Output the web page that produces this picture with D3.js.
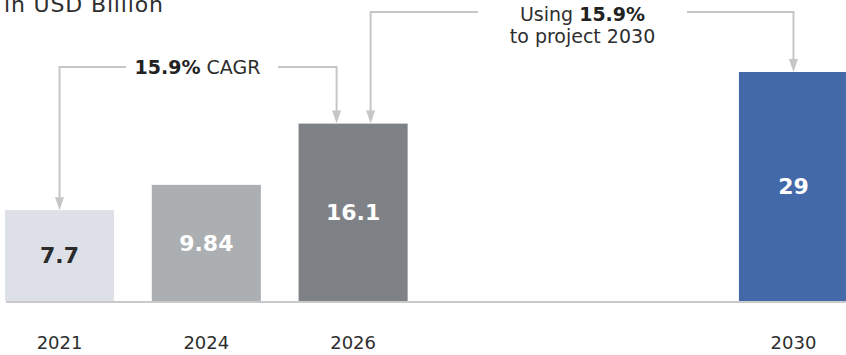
<!DOCTYPE html>
<html>
<head>
<meta charset="utf-8">
<script src="https://cdn.jsdelivr.net/npm/d3@7"></script>
<style>
  html, body { margin: 0; padding: 0; background: #ffffff; }
  svg { display: block; }
</style>
</head>
<body>
<svg id="chart" width="846" height="355"></svg>
<script>
// ---- data ----
const years = ["2021", "2024", "2026", "2030"];
const values = [7.7, 9.84, 16.1, 29];
const valueLabels = ["7.7", "9.84", "16.1", "29"];
const unitLabel = "in USD Billion";
const cagrPct = "15.9%";

// ---- styles ----
const barColors = ["#dde1e7", "#abafb2", "#7e8185", "#4469a8"];
const valueColors = ["#2b2b2b", "#ffffff", "#ffffff", "#ffffff"];
const textColor = "#2e2e2e";
const lineColor = "#c6c6c6";
const font = "'DejaVu Sans', sans-serif";

const svg = d3.select("#chart");

// slots: two empty slots between 2026 and 2030
const slotDomain = ["2021", "2024", "2026", "_gap1", "_gap2", "2030"];
const x = d3.scaleBand().domain(slotDomain).range([5, 848]).paddingInner(0.257).paddingOuter(0);
// chart is not drawn to a single linear scale: piecewise scale (projection compressed)
const y = d3.scaleLinear().domain([0, 10, 16, 29]).range([301, 183, 124, 72]);

const data = years.map((yr, i) => ({ yr, v: values[i], lab: valueLabels[i], i }));

// bars
svg.selectAll("rect.bar").data(data).enter().append("rect")
  .attr("class", "bar")
  .attr("x", d => x(d.yr))
  .attr("y", d => y(d.v))
  .attr("width", x.bandwidth())
  .attr("height", d => y(0) - y(d.v))
  .attr("fill", d => barColors[d.i]);

// baseline
svg.append("line")
  .attr("x1", 6).attr("x2", 846)
  .attr("y1", y(0) + 1).attr("y2", y(0) + 1)
  .attr("stroke", "#c9c9c9").attr("stroke-width", 2);

// value labels
svg.selectAll("text.val").data(data).enter().append("text")
  .attr("class", "val")
  .attr("x", d => x(d.yr) + x.bandwidth() / 2)
  .attr("y", d => (y(d.v) + y(0)) / 2)
  .attr("dy", "0.36em")
  .attr("text-anchor", "middle")
  .attr("font-family", font)
  .attr("font-weight", "bold")
  .attr("font-size", 22)
  .attr("fill", d => valueColors[d.i])
  .text(d => d.lab);

// year labels (axis)
const xAxis = d3.axisBottom(x).tickSize(0).tickPadding(0)
  .tickFormat(d => d.startsWith("_") ? "" : d);
const gAxis = svg.append("g").attr("transform", `translate(0, 336)`).call(xAxis);
gAxis.select(".domain").remove();
gAxis.selectAll("text")
  .attr("font-family", font)
  .attr("font-size", 18)
  .attr("fill", textColor)
  .attr("dy", "0.72em");

// unit title (cut at the top edge, as in the reference)
svg.append("text")
  .attr("x", 4).attr("y", 12)
  .attr("font-family", font)
  .attr("font-size", 22)
  .attr("textLength", 159)
  .attr("fill", textColor)
  .text(unitLabel);

// ---- annotations ----
function arrowHead(xTip, yTip) {
  svg.append("path")
    .attr("d", `M${xTip},${yTip} L${xTip - 4.5},${yTip - 13} L${xTip + 4.5},${yTip - 13} Z`)
    .attr("fill", lineColor);
}
function bracket(x1, y1, x2, y2, yTop, gapL, gapR) {
  const p = d3.path();
  p.moveTo(x1, y1 - 12); p.lineTo(x1, yTop); p.lineTo(gapL, yTop);
  p.moveTo(gapR, yTop); p.lineTo(x2, yTop); p.lineTo(x2, y2 - 12);
  svg.append("path").attr("d", p.toString())
    .attr("fill", "none").attr("stroke", lineColor).attr("stroke-width", 2);
  arrowHead(x1, y1);
  arrowHead(x2, y2);
}

const cx = yr => x(yr) + x.bandwidth() / 2;

// CAGR bracket 2021 -> 2026
bracket(cx("2021"), y(values[0]), cx("2026") - 16.5, y(values[2]), 67, 126, 278);
const t1 = svg.append("text")
  .attr("x", 197.5).attr("y", 67).attr("dy", "0.36em")
  .attr("text-anchor", "middle")
  .attr("font-family", font).attr("font-size", 19).attr("fill", textColor);
t1.append("tspan").attr("font-weight", "bold").attr("fill", "#222").text(cagrPct);
t1.append("tspan").text(" CAGR");

// projection bracket 2026 -> 2030
bracket(cx("2026") + 17.5, y(values[2]), cx("2030"), y(values[3]), 12, 478, 687);
const t2 = svg.append("text")
  .attr("x", 582.5).attr("y", 21)
  .attr("text-anchor", "middle")
  .attr("font-family", font).attr("font-size", 19).attr("fill", textColor);
t2.append("tspan").text("Using ");
t2.append("tspan").attr("font-weight", "bold").attr("fill", "#222").text(cagrPct);
svg.append("text")
  .attr("x", 582.5).attr("y", 43)
  .attr("text-anchor", "middle")
  .attr("font-family", font).attr("font-size", 19).attr("fill", textColor)
  .text("to project 2030");
</script>
</body>
</html>
